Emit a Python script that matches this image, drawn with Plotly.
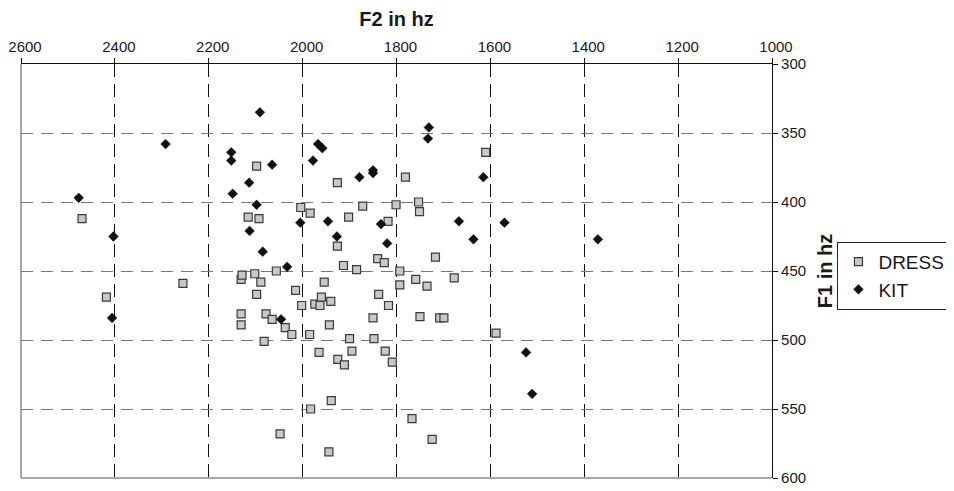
import plotly.graph_objects as go

# DRESS tokens: F2 (Hz), F1 (Hz)
dress_f2 = [2470, 2098, 1926, 2004, 1984, 1902, 1872, 1818, 1801, 1926,
            1610, 1781, 1753, 1751, 2116, 2093, 2418, 2255, 2131, 2129,
            2102, 2056, 2089, 2098, 2015, 2002, 1974, 1963, 1960, 1940,
            1954, 2131, 2131, 2078, 2065, 2037, 2023, 2082, 1985, 1943,
            1913, 1885, 1840, 1826, 1793, 1793, 1838, 1817, 1850, 1900,
            1848, 1895, 1965, 1925, 1911, 1824, 1809, 1939, 1983, 2048,
            1944, 1717, 1759, 1735, 1677, 1750, 1708, 1699, 1588, 1767,
            1724]
dress_f1 = [412, 374, 386, 404, 408, 411, 403, 414, 402, 432,
            364, 382, 400, 407, 411, 412, 469, 459, 456, 453,
            452, 450, 458, 467, 464, 475, 474, 475, 469, 472,
            458, 481, 489, 481, 485, 491, 496, 501, 496, 489,
            446, 449, 441, 444, 450, 460, 467, 475, 484, 499,
            499, 508, 509, 514, 518, 508, 516, 544, 550, 568,
            581, 440, 456, 461, 455, 483, 484, 484, 495, 557,
            572]

# KIT tokens: F2 (Hz), F1 (Hz)
kit_f2 = [2091, 2292, 2477, 2403, 2152, 2152, 2065, 2114, 2149, 2098,
          2113, 1967, 1958, 1978, 1879, 1850, 1850, 2005, 1946, 1927,
          1833, 1820, 2085, 1731, 1733, 1615, 1667, 1570, 1636, 1371,
          2406, 2033, 2046, 1524, 1511]
kit_f1 = [335, 358, 397, 425, 364, 370, 373, 386, 394, 402,
          421, 358, 361, 370, 382, 377, 379, 415, 414, 425,
          416, 430, 436, 346, 354, 382, 414, 415, 427, 427,
          484, 447, 485, 509, 539]

x_ticks = [2600, 2400, 2200, 2000, 1800, 1600, 1400, 1200, 1000]
y_ticks = [300, 350, 400, 450, 500, 550, 600]

FONT = "Liberation Sans, Arial, Helvetica, sans-serif"

# page body has an 8px default margin; plot area wanted at x 20.7..772.5, y 63.5..478.5
W, H = 954, 491
L, T = 12.7, 55.5
PW, PH = 751.8, 415.0

fig = go.Figure()
fig.add_trace(go.Scatter(
    x=dress_f2, y=dress_f1, mode="markers", name="DRESS",
    marker=dict(symbol="square", size=8, color="#c8c8c8",
                line=dict(color="#3a3a3a", width=1.2)),
))
fig.add_trace(go.Scatter(
    x=kit_f2, y=kit_f1, mode="markers", name="KIT",
    marker=dict(symbol="diamond", size=7.5, color="#111111",
                line=dict(color="#111111", width=0.5)),
))

fig.update_layout(
    width=W, height=H,
    margin=dict(l=L, r=W - L - PW, t=T, b=H - T - PH, autoexpand=False),
    paper_bgcolor="white", plot_bgcolor="white",
    font=dict(family=FONT, size=15, color="#1a1a1a"),
    showlegend=True,
    legend=dict(
        x=(838 - 8 - L) / PW, y=(T + PH - (241.7 - 8)) / PH,
        xanchor="left", yanchor="top",
        bgcolor="white", bordercolor="#222222", borderwidth=1,
        font=dict(family=FONT, size=19, color="#1a1a1a"),
        tracegroupgap=0, entrywidth=100, entrywidthmode="pixels",
    ),
    xaxis=dict(
        range=[2600, 1000], side="top",
        tickvals=x_ticks, ticktext=[str(v) for v in x_ticks],
        ticks="outside", ticklen=5, tickcolor="#111111", tickwidth=1,
        showline=True, linecolor="#111111", linewidth=1.2,
        showgrid=True, gridcolor="#111111", gridwidth=1.2,
        griddash="13px,7px", zeroline=False,
        tickfont=dict(size=15), ticklabeloverflow="allow", ticklabelshift=-4,
        title=dict(text="<b>F2 in hz</b>", font=dict(size=20), standoff=13),
    ),
    yaxis=dict(
        range=[600, 300], side="right",
        tickvals=y_ticks, ticktext=[str(v) for v in y_ticks],
        ticks="outside", ticklen=5, tickcolor="#111111", tickwidth=1,
        showline=True, linecolor="#111111", linewidth=1.2,
        showgrid=True, gridcolor="#777777", gridwidth=1.2,
        griddash="12px,8px", zeroline=False,
        tickfont=dict(size=15), ticklabeloverflow="allow",
        title=dict(text="<b>F1 in hz</b>", font=dict(size=20), standoff=12),
    ),
    shapes=[
        dict(type="line", xref="paper", yref="paper", x0=0, x1=0, y0=0, y1=1,
             line=dict(color="#8a8a8a", width=1.5), layer="above"),
        dict(type="line", xref="paper", yref="paper", x0=0, x1=1, y0=0, y1=0,
             line=dict(color="#8a8a8a", width=1.5), layer="above"),
    ],
)

fig.write_html("out.html")
